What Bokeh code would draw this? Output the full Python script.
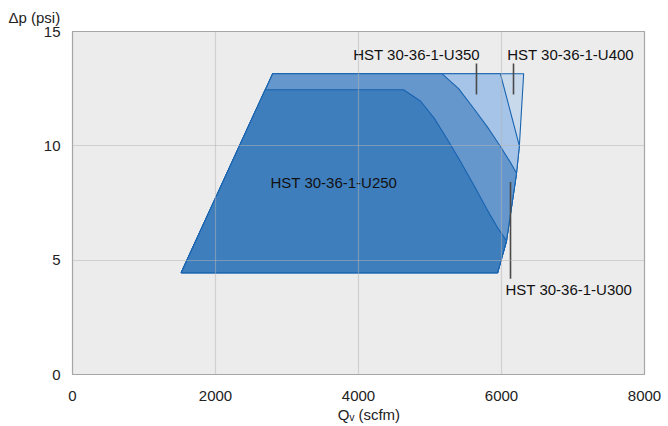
from bokeh.plotting import figure
from bokeh.models import Label, FixedTicker
from bokeh.embed import file_html
from bokeh.resources import INLINE

# ---- data (Qv in scfm, dp in psi) ----
models = ["HST 30-36-1-U400", "HST 30-36-1-U350", "HST 30-36-1-U300", "HST 30-36-1-U250"]

u400_q = [1520, 2800, 6310, 6250, 6210, 6070, 5945]
u400_p = [4.45, 13.15, 13.15, 10.0, 8.8, 5.85, 4.45]

u350_q = [1520, 2800, 5985, 6250, 6210, 6070, 5945]
u350_p = [4.45, 13.15, 13.15, 10.0, 8.8, 5.85, 4.45]

u300_q = [1520, 2800, 5170, 5400, 5620, 5820, 5990, 6120, 6210, 6070, 5945]
u300_p = [4.45, 13.15, 13.15, 12.5, 11.6, 10.75, 9.95, 9.3, 8.8, 5.85, 4.45]

u250_q = [1520, 2694, 4630, 4870, 5060, 5240, 5420, 5610, 5800, 5950, 6070, 5945]
u250_p = [4.45, 12.45, 12.45, 11.95, 11.2, 10.3, 9.35, 8.3, 7.2, 6.4, 5.85, 4.45]

x_ticks = [0, 2000, 4000, 6000, 8000]
y_ticks = [0, 5, 10, 15]

FONT = "Liberation Sans"

p = figure(width=668, height=426, x_range=(0, 8000), y_range=(0, 15),
           output_backend="svg", toolbar_location=None,
           title="\u0394p (psi)",
           min_border_left=72, min_border_right=24, min_border_top=31, min_border_bottom=52)
p.background_fill_color = "#ececec"
p.border_fill_color = "white"
p.outline_line_color = "#a6a6a6"
p.outline_line_width = 1.2

p.title.text_font = FONT
p.title.text_font_size = "15px"
p.title.text_font_style = "normal"
p.title.text_color = "#222222"
p.title.offset = -64
p.title.standoff = 12

for ax, ticks in ((p.xaxis[0], x_ticks), (p.yaxis[0], y_ticks)):
    ax.ticker = FixedTicker(ticks=ticks)
    ax.axis_line_color = None
    ax.major_tick_line_color = None
    ax.minor_tick_line_color = None
    ax.major_label_text_font = FONT
    ax.major_label_text_font_size = "15px"
    ax.major_label_text_color = "#222222"
    ax.major_label_standoff = 10
p.yaxis.major_label_standoff = 6

p.xaxis.axis_label = "\u00a0\u00a0\u00a0\u00a0\u00a0Q\u1d65 (scfm)"
p.xaxis.axis_label_text_font = FONT
p.xaxis.axis_label_text_font_size = "15px"
p.xaxis.axis_label_text_font_style = "normal"
p.xaxis.axis_label_text_color = "#222222"
p.xaxis.axis_label_standoff = 2

for g in (p.xgrid[0], p.ygrid[0]):
    g.grid_line_color = "#b4b4b4"
    g.grid_line_alpha = 0.5
    g.grid_line_width = 1.2
    g.level = "overlay"

colors = ["#c9d9ec", "#a5c4e7", "#6597cd", "#3f7ebd"]
qs = [u400_q, u350_q, u300_q, u250_q]
ps = [u400_p, u350_p, u300_p, u250_p]
for q, pp, c in zip(qs, ps, colors):
    p.patch(q, pp, fill_color=c, line_color="#1763b0", line_width=1.1)

# pointer lines
ptr_x = [5650, 6168, 6126]
ptr_y0 = [13.6, 13.6, 8.42]
ptr_y1 = [12.24, 12.24, 4.19]
p.segment(x0=ptr_x, y0=ptr_y0, x1=ptr_x, y1=ptr_y1, line_color="#4a4a4a", line_width=1.6)

lab_x = [6080, 3926, 6056, 2769]
lab_y = [14.0, 14.0, 3.71, 8.39]
for t, x, y in zip(models, lab_x, lab_y):
    p.add_layout(Label(x=x, y=y, text=t, text_font=FONT, text_font_size="15px",
                       text_color="#111111", text_baseline="middle", text_align="left"))

open("out.html", "w").write(file_html(p, INLINE))
